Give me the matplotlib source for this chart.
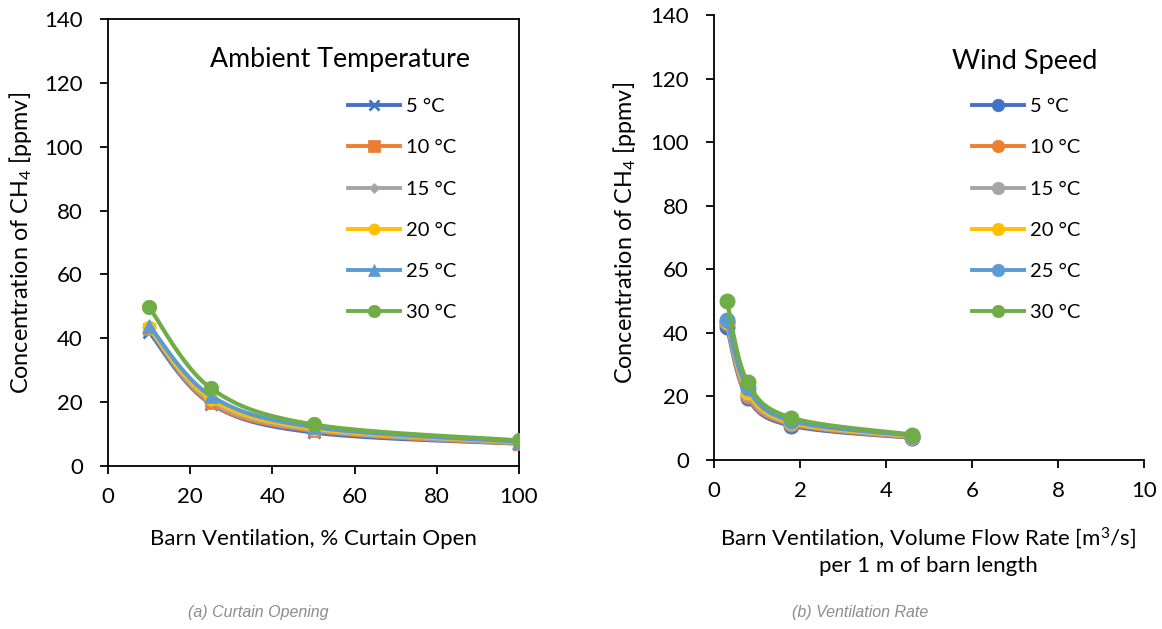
import numpy as np
import matplotlib
matplotlib.use("Agg")
import matplotlib.pyplot as plt
from matplotlib.lines import Line2D

# ---------------- data ----------------
curtain_open = [10, 25, 50, 100]
flow_rate = [0.3, 0.78, 1.8, 4.6]
labels = ["5 °C", "10 °C", "15 °C", "20 °C", "25 °C", "30 °C"]

ch4_curtain_5 = [42, 19.5, 10.5, 7]
ch4_curtain_10 = [43, 19.7, 11, 7]
ch4_curtain_15 = [43, 20.3, 11.3, 7.2]
ch4_curtain_20 = [43.5, 21, 11.7, 7.5]
ch4_curtain_25 = [44, 22, 12.2, 7.6]
ch4_curtain_30 = [49.7, 24.4, 13, 8]

ch4_flow_5 = [42, 19.5, 10.8, 7]
ch4_flow_10 = [43, 20, 11.2, 7.1]
ch4_flow_15 = [43.3, 20.7, 11.5, 7.3]
ch4_flow_20 = [43.6, 21.5, 11.8, 7.5]
ch4_flow_25 = [44, 22.5, 12.3, 7.7]
ch4_flow_30 = [50, 24.5, 13.3, 8]

colors = ["#4472C4", "#ED7D31", "#A5A5A5", "#FFC000", "#5B9BD5", "#70AD47"]
markers_a = ["x", "s", "D", "o", "^", "o"]
msizes_a = [8, 9, 6, 9.5, 10, 10.5]
leg_sizes_a = [7, 8, 5, 8, 8, 9]

font = ["Lato", "DejaVu Sans"]
plt.rcParams["font.family"] = font
plt.rcParams["mathtext.fontset"] = "custom"
plt.rcParams["mathtext.rm"] = "Lato"
plt.rcParams["mathtext.it"] = "Lato:italic"


def smooth(x, y, n=40):
    """Catmull-Rom smoothing (like Excel's smoothed line)."""
    x = np.asarray(x, float)
    y = np.asarray(y, float)
    P = np.column_stack([x, y])
    P = np.vstack([P[0], P, P[-1]])
    out = []
    t = np.linspace(0, 1, n)
    for i in range(1, len(P) - 2):
        p0, p1, p2, p3 = P[i - 1], P[i], P[i + 1], P[i + 2]
        c1 = p1 + (p2 - p0) / 6
        c2 = p2 - (p3 - p1) / 6
        seg = ((1 - t) ** 3)[:, None] * p1 + (3 * (1 - t) ** 2 * t)[:, None] * c1 \
            + (3 * (1 - t) * t ** 2)[:, None] * c2 + (t ** 3)[:, None] * p2
        out.append(seg)
    s = np.vstack(out)
    return s[:, 0], s[:, 1]


W, H = 1162, 629
fig = plt.figure(figsize=(W / 100, H / 100), dpi=100)

# axes positions in pixels
axA = fig.add_axes([108 / W, 1 - 466 / H, (519 - 108) / W, (466 - 19) / H])
axB = fig.add_axes([714 / W, 1 - 460 / H, (1144 - 714) / W, (460 - 15) / H])

series_a = [ch4_curtain_5, ch4_curtain_10, ch4_curtain_15, ch4_curtain_20, ch4_curtain_25, ch4_curtain_30]
series_b = [ch4_flow_5, ch4_flow_10, ch4_flow_15, ch4_flow_20, ch4_flow_25, ch4_flow_30]

TS = 16
LS = 14.5
for i, ys in enumerate(series_a):
    sx, sy = smooth(curtain_open, ys)
    axA.plot(sx, sy, color=colors[i], lw=3, zorder=2 + i, solid_capstyle="round")
    axA.plot(curtain_open, ys, ls="none", marker=markers_a[i], ms=msizes_a[i],
             color=colors[i], mew=2 if markers_a[i] == "x" else 0.5, zorder=2 + i)
for i, ys in enumerate(series_b):
    sx, sy = smooth(flow_rate, ys)
    axB.plot(sx, sy, color=colors[i], lw=3, zorder=2 + i, solid_capstyle="round")
    axB.plot(flow_rate, ys, ls="none", marker="o", ms=10.5, color=colors[i], zorder=2 + i)

for ax in (axA, axB):
    ax.set_ylim(0, 140)
    ax.set_yticks(range(0, 141, 20))
    ax.tick_params(axis="both", direction="out", length=6, width=1.3, labelsize=TS,
                   colors="black")
    ax.tick_params(axis="y", pad=12)
    ax.tick_params(axis="x", pad=9)
    for sp in ax.spines.values():
        sp.set_linewidth(1.3)
        sp.set_color("black")

axA.set_xlim(0, 100)
axA.set_xticks(range(0, 101, 20))
axB.set_xlim(0, 10)
axB.set_xticks(range(0, 11, 2))
axB.spines["top"].set_visible(False)
axB.spines["right"].set_visible(False)

axA.set_ylabel("Concentration of CH$_4$ [ppmv]", fontsize=16.8)
axB.set_ylabel("Concentration of CH$_4$ [ppmv]", fontsize=16.8)
axA.yaxis.set_label_coords((34 - 108) / 411, 0.5)
axB.yaxis.set_label_coords((638 - 714) / 430, 0.51)

axA.set_xlabel("Barn Ventilation, % Curtain Open", fontsize=TS)
axB.set_xlabel("Barn Ventilation, Volume Flow Rate [m$^3$/s]\nper 1 m of barn length",
               fontsize=TS, linespacing=1.3)
axA.xaxis.set_label_coords(0.5, (466 - 529) / 447)
axB.xaxis.set_label_coords((928 - 714) / 430, (460 - 525) / 445)

# legends
def make_handles(markers, sizes):
    hs = []
    for i in range(6):
        hs.append(Line2D([], [], color=colors[i], lw=2.8, marker=markers[i], ms=sizes[i],
                         mew=2 if markers[i] == "x" else 0.5))
    return hs

legA = axA.legend(make_handles(markers_a, leg_sizes_a), labels, loc="upper left",
                  bbox_to_anchor=((340 - 108) / (519 - 108), 1 - (90 - 19) / (466 - 19)),
                  frameon=False, fontsize=LS, handlelength=2.6, handletextpad=0.3,
                  labelspacing=1.2, borderaxespad=0)
legB = axB.legend(make_handles(["o"] * 6, [9] * 6), labels, loc="upper left",
                  bbox_to_anchor=((964 - 714) / (1144 - 714), 1 - (90 - 15) / (460 - 15)),
                  frameon=False, fontsize=LS, handlelength=2.6, handletextpad=0.3,
                  labelspacing=1.2, borderaxespad=0)

fig.text(340 / W, 1 - 60 / H, "Ambient Temperature", fontsize=19.3, ha="center", va="center")
fig.text(1025 / W, 1 - 62 / H, "Wind Speed", fontsize=19.5, ha="center", va="center")

fig.text(258 / W, 1 - 612 / H, "(a) Curtain Opening", fontsize=11.5, style="italic",
         color="#8C8C8C", ha="center", va="center", family=["Liberation Sans", "DejaVu Sans"])
fig.text(860 / W, 1 - 612 / H, "(b) Ventilation Rate", fontsize=11.5, style="italic",
         color="#8C8C8C", ha="center", va="center", family=["Liberation Sans", "DejaVu Sans"])

fig.savefig("out.png", dpi=100)
